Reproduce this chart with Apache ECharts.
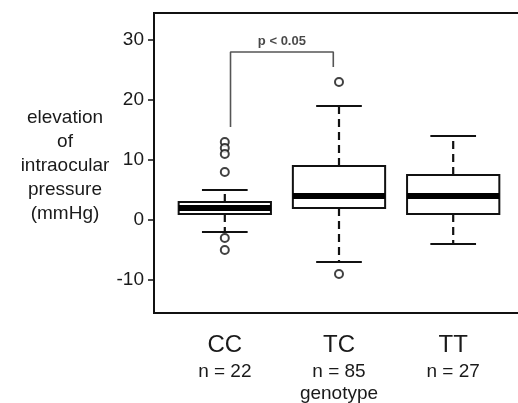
<!DOCTYPE html>
<html>
<head>
<meta charset="utf-8">
<script src="https://cdn.jsdelivr.net/npm/echarts@6/dist/echarts.min.js"></script>
<style>
html,body{margin:0;padding:0;background:#fff;}
#chart{width:518px;height:403px;}
</style>
</head>
<body>
<div id="chart"></div>
<script>
const genotypes = ['CC', 'TC', 'TT'];
const sampleSizes = [22, 85, 27];
const whiskerLow = [-2, -7, -4];
const q1 = [1, 2, 1];
const medians = [2, 4, 4];
const q3 = [3, 9, 7.5];
const whiskerHigh = [5, 19, 14];
const outliersCC = [13, 12, 11, 8, -3, -5];
const outliersTC = [23, -9];
const outliersTT = [];
const yTicks = [-10, 0, 10, 20, 30];
const bracketX = [1.05, 1.95];
const bracketY = [15.5, 28, 25.5];
const pText = 'p < 0.05';
const yTitle = 'elevation\nof\nintraocular\npressure\n(mmHg)';
const xTitle = 'genotype';

const FONT = '"Liberation Sans", Arial, Helvetica, sans-serif';
const TXT = '#1a1a1a';

const boxData = genotypes.map((g, i) => [i + 1, whiskerLow[i], q1[i], medians[i], q3[i], whiskerHigh[i]]);
const outlierData = [];
[outliersCC, outliersTC, outliersTT].forEach((arr, i) => arr.forEach(v => outlierData.push([i + 1, v])));
const bracketData = [
  [bracketX[0], bracketY[0]], [bracketX[0], bracketY[1]],
  [bracketX[1], bracketY[1]], [bracketX[1], bracketY[2]]
];

const chart = echarts.init(document.getElementById('chart'), null, {renderer: 'canvas'});

function renderBox(params, api) {
  const x = api.value(0);
  const lw = api.value(1), lq = api.value(2), med = api.value(3), uq = api.value(4), uw = api.value(5);
  const unit = api.size([1, 0])[0];
  const hb = unit * 0.404, hc = unit * 0.2;
  const P = v => api.coord([x, v]);
  const pLw = P(lw), pLq = P(lq), pMed = P(med), pUq = P(uq), pUw = P(uw);
  const cx = pMed[0];
  const stroke = '#111';
  return {
    type: 'group',
    children: [
      {type: 'line', shape: {x1: cx, y1: pUq[1], x2: cx, y2: pUw[1]}, style: {stroke, lineWidth: 2.2, lineDash: [8, 5]}},
      {type: 'line', shape: {x1: cx, y1: pLq[1], x2: cx, y2: pLw[1]}, style: {stroke, lineWidth: 2.2, lineDash: [8, 5]}},
      {type: 'line', shape: {x1: cx - hc, y1: pUw[1], x2: cx + hc, y2: pUw[1]}, style: {stroke, lineWidth: 2.2}},
      {type: 'line', shape: {x1: cx - hc, y1: pLw[1], x2: cx + hc, y2: pLw[1]}, style: {stroke, lineWidth: 2.2}},
      {type: 'rect', shape: {x: cx - hb, y: pUq[1], width: hb * 2, height: pLq[1] - pUq[1]}, style: {fill: '#fff', stroke, lineWidth: 2}},
      {type: 'line', shape: {x1: cx - hb, y1: pMed[1], x2: cx + hb, y2: pMed[1]}, style: {stroke: '#000', lineWidth: 6}}
    ]
  };
}

chart.setOption({
  animation: false,
  backgroundColor: '#fff',
  grid: {left: 154, top: 13, right: -6, bottom: 90, show: true, borderColor: '#111', borderWidth: 2, backgroundColor: 'transparent', containLabel: false, outerBoundsMode: 'none'},
  xAxis: {
    type: 'value', min: 0.38, max: 3.62,
    splitLine: {show: false}, axisLine: {show: false}, axisTick: {show: false},
    name: xTitle, nameLocation: 'middle', nameGap: 71.5, nameMoveOverlap: false,
    nameTextStyle: {fontFamily: FONT, fontSize: 19, color: TXT, verticalAlign: 'top'},
    axisLabel: {
      customValues: [1, 2, 3],
      margin: 18,
      verticalAlign: 'top',
      formatter: v => '{a|' + genotypes[v - 1] + '}\n{b|n = ' + sampleSizes[v - 1] + '}',
      rich: {
        a: {fontFamily: FONT, fontSize: 24, color: TXT, lineHeight: 28},
        b: {fontFamily: FONT, fontSize: 19, color: TXT, lineHeight: 26}
      }
    }
  },
  yAxis: {
    type: 'value', min: -15.5, max: 34.5,
    splitLine: {show: false},
    axisLine: {show: false},
    axisTick: {show: true, customValues: yTicks, length: 6, lineStyle: {color: '#111', width: 1.5}},
    axisLabel: {customValues: yTicks, margin: 10, fontFamily: FONT, fontSize: 19, color: TXT}
  },
  series: [
    {
      type: 'line', data: bracketData, symbol: 'none', silent: true,
      lineStyle: {color: '#555', width: 1.6}, z: 1
    },
    {
      type: 'scatter', data: [[(bracketX[0] + bracketX[1]) / 2, bracketY[1]]], symbolSize: 0, silent: true,
      label: {show: true, position: 'top', distance: 4, formatter: pText, fontFamily: FONT, fontSize: 13, fontWeight: 'bold', color: TXT}
    },
    {type: 'custom', data: boxData, renderItem: renderBox, encode: {x: 0, y: [1, 2, 3, 4, 5]}, z: 2},
    {
      type: 'scatter', data: outlierData, symbol: 'circle', symbolSize: 8,
      itemStyle: {color: '#fff', borderColor: '#111', borderWidth: 2}, z: 3
    }
  ]
});

// y-axis title, centred on the value 9 of the y axis, to the left of the tick labels
const titleY = chart.convertToPixel({yAxisIndex: 0}, 9);
chart.setOption({
  graphic: [{
    type: 'text', x: 65, y: titleY,
    style: {text: yTitle, fontFamily: FONT, fontSize: 19, fill: TXT, align: 'center', verticalAlign: 'middle', lineHeight: 24}
  }]
});
</script>
</body>
</html>
